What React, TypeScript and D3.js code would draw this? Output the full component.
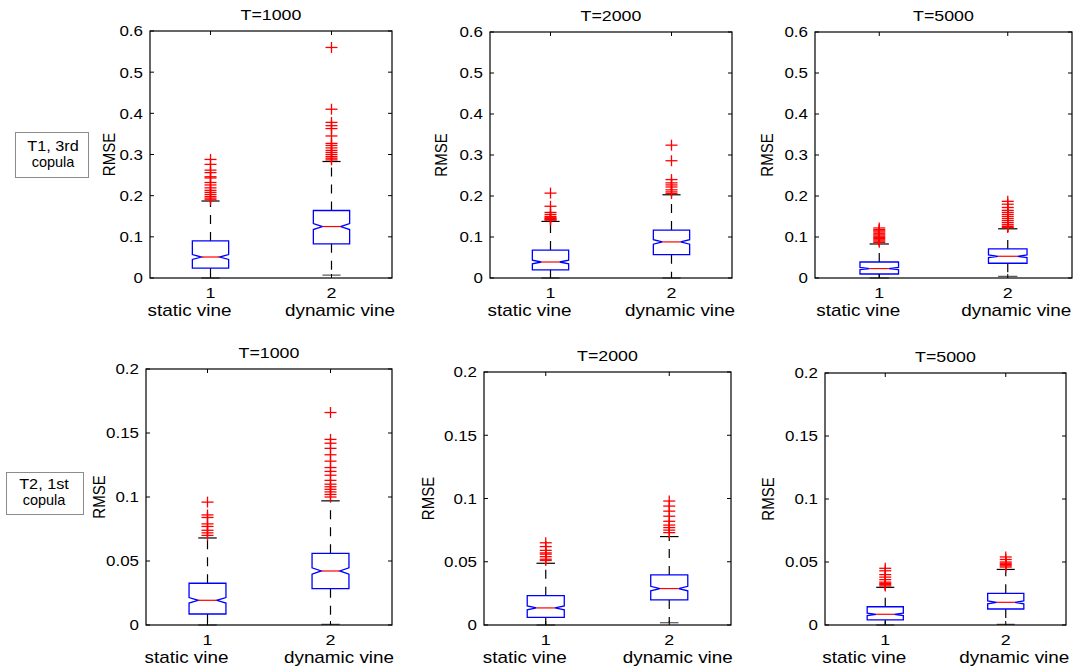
import React from "react";
import * as d3 from "d3";

// ---- data -------------------------------------------------------------
const categories = ["static vine", "dynamic vine"];
const categoryTicks = ["1", "2"];
const sampleTitles = ["T=1000", "T=2000", "T=5000"];
const rowLabels = [["T1, 3rd", "copula"], ["T2, 1st", "copula"]];
const topTicks = [0, 0.1, 0.2, 0.3, 0.4, 0.5, 0.6];
const topTickLabels = ["0", "0.1", "0.2", "0.3", "0.4", "0.5", "0.6"];
const bottomTicks = [0, 0.05, 0.1, 0.15, 0.2];
const bottomTickLabels = ["0", "0.05", "0.1", "0.15", "0.2"];
const sampleSize = 300; // replications per box, used for notch size

type BoxStat = { lo: number; q1: number; med: number; q3: number; hi: number; out: number[] };

// Tree 1, 3rd copula
const t1T1000: BoxStat[] = [
  { lo: 0, q1: 0.024, med: 0.051, q3: 0.09, hi: 0.187,
    out: [0.19, 0.194, 0.198, 0.203, 0.208, 0.213, 0.219, 0.226, 0.232, 0.243, 0.246, 0.256, 0.262, 0.276, 0.288] },
  { lo: 0.007, q1: 0.083, med: 0.125, q3: 0.164, hi: 0.283,
    out: [0.287, 0.291, 0.295, 0.3, 0.305, 0.31, 0.316, 0.322, 0.327, 0.345, 0.363, 0.37, 0.378, 0.41, 0.56] },
];
const t1T2000: BoxStat[] = [
  { lo: 0, q1: 0.02, med: 0.039, q3: 0.068, hi: 0.138,
    out: [0.141, 0.143, 0.145, 0.147, 0.15, 0.155, 0.16, 0.175, 0.207] },
  { lo: 0, q1: 0.057, med: 0.088, q3: 0.117, hi: 0.203,
    out: [0.206, 0.21, 0.215, 0.222, 0.227, 0.232, 0.24, 0.286, 0.324] },
];
const t1T5000: BoxStat[] = [
  { lo: 0, q1: 0.0097, med: 0.023, q3: 0.039, hi: 0.083,
    out: [0.087, 0.09, 0.093, 0.096, 0.099, 0.102, 0.105, 0.108, 0.112, 0.115, 0.118, 0.122] },
  { lo: 0.004, q1: 0.036, med: 0.053, q3: 0.071, hi: 0.12,
    out: [0.123, 0.126, 0.13, 0.135, 0.14, 0.145, 0.15, 0.155, 0.16, 0.165, 0.172, 0.18, 0.187] },
];
// Tree 2, 1st copula
const t2T1000: BoxStat[] = [
  { lo: 0, q1: 0.0086, med: 0.0193, q3: 0.0326, hi: 0.068,
    out: [0.07, 0.072, 0.074, 0.077, 0.079, 0.084, 0.086, 0.096] },
  { lo: 0.0005, q1: 0.0284, med: 0.0422, q3: 0.056, hi: 0.097,
    out: [0.1, 0.102, 0.104, 0.106, 0.108, 0.11, 0.113, 0.117, 0.12, 0.123, 0.128, 0.133, 0.138, 0.142, 0.145, 0.166] },
];
const t2T2000: BoxStat[] = [
  { lo: 0, q1: 0.0061, med: 0.0135, q3: 0.0232, hi: 0.0488,
    out: [0.051, 0.052, 0.054, 0.056, 0.057, 0.059, 0.062, 0.065] },
  { lo: 0.0018, q1: 0.0198, med: 0.0288, q3: 0.0396, hi: 0.0699,
    out: [0.073, 0.075, 0.077, 0.079, 0.082, 0.086, 0.09, 0.094, 0.098] },
];
const t2T5000: BoxStat[] = [
  { lo: 0, q1: 0.004, med: 0.0085, q3: 0.0145, hi: 0.0299,
    out: [0.031, 0.032, 0.033, 0.034, 0.036, 0.038, 0.04, 0.043, 0.045] },
  { lo: 0.0005, q1: 0.0127, med: 0.018, q3: 0.0251, hi: 0.0441,
    out: [0.046, 0.047, 0.048, 0.049, 0.05, 0.052, 0.054] },
];

// ---- layout -----------------------------------------------------------
const FONT = "'Liberation Sans', Arial, Helvetica, sans-serif";
const BLUE = "#0000ff";
const RED = "#ff0000";
// horizontal offsets of the two-line tick label's second line
const categoryShift = [-21, 8.5];

type Panel = {
  title: string; boxes: BoxStat[]; ticks: number[]; tickLabels: string[]; yMax: number;
  left: number; top: number; right: number; bottom: number; ylabelX: number;
};

const panels: Panel[] = [
  { title: sampleTitles[0], boxes: t1T1000, ticks: topTicks, tickLabels: topTickLabels, yMax: 0.6, left: 150, top: 31, right: 392, bottom: 278, ylabelX: 109 },
  { title: sampleTitles[1], boxes: t1T2000, ticks: topTicks, tickLabels: topTickLabels, yMax: 0.6, left: 490, top: 32, right: 732, bottom: 278, ylabelX: 441 },
  { title: sampleTitles[2], boxes: t1T5000, ticks: topTicks, tickLabels: topTickLabels, yMax: 0.6, left: 815, top: 32, right: 1072, bottom: 278, ylabelX: 767 },
  { title: sampleTitles[0], boxes: t2T1000, ticks: bottomTicks, tickLabels: bottomTickLabels, yMax: 0.2, left: 146, top: 369, right: 392, bottom: 625, ylabelX: 99 },
  { title: sampleTitles[1], boxes: t2T2000, ticks: bottomTicks, tickLabels: bottomTickLabels, yMax: 0.2, left: 484, top: 372, right: 731, bottom: 625, ylabelX: 428 },
  { title: sampleTitles[2], boxes: t2T5000, ticks: bottomTicks, tickLabels: bottomTickLabels, yMax: 0.2, left: 825, top: 373, right: 1066, bottom: 625, ylabelX: 768 },
];

// text with horizontal stretch (the figure is rendered wider than tall)
function SText(props: {
  x: number; y: number; sx?: number; size: number; anchor?: string; rotate?: number; children: React.ReactNode; dy?: string;
}) {
  const { x, y, sx = 1, size, anchor = "middle", rotate = 0, children, dy } = props;
  const tr = `translate(${x},${y}) scale(${sx},1)` + (rotate ? ` rotate(${rotate})` : "");
  return (
    <text transform={tr} fontSize={size} fontFamily={FONT} textAnchor={anchor} fill="#000" dy={dy}>
      {children}
    </text>
  );
}

function BoxPanel({ p }: { p: Panel }) {
  const x = d3.scaleLinear().domain([0.5, 2.5]).range([p.left, p.right]);
  const y = d3.scaleLinear().domain([0, p.yMax]).range([p.bottom, p.top]);
  const unit = x(2) - x(1);
  const bw = unit * 0.3;
  const tickLen = 4;
  const midY = (p.top + p.bottom) / 2;

  return (
    <g>
      {/* boxes */}
      {p.boxes.map((b, i) => {
        const cx = x(i + 1);
        const half = bw / 2;
        const notch = (1.57 * (b.q3 - b.q1)) / Math.sqrt(sampleSize);
        const nLo = y(b.med - notch);
        const nHi = y(b.med + notch);
        const yMed = y(b.med);
        const path = d3.path();
        path.moveTo(cx - half, y(b.q1));
        path.lineTo(cx - half, nLo);
        path.lineTo(cx - half / 2, yMed);
        path.lineTo(cx - half, nHi);
        path.lineTo(cx - half, y(b.q3));
        path.lineTo(cx + half, y(b.q3));
        path.lineTo(cx + half, nHi);
        path.lineTo(cx + half / 2, yMed);
        path.lineTo(cx + half, nLo);
        path.lineTo(cx + half, y(b.q1));
        path.closePath();
        const capHalf = bw / 4;
        return (
          <g key={i}>
            <line x1={cx} x2={cx} y1={y(b.q3)} y2={y(b.hi)} stroke="#000" strokeWidth={1.2} strokeDasharray="9,8" />
            <line x1={cx} x2={cx} y1={y(b.q1)} y2={y(b.lo)} stroke="#000" strokeWidth={1.2} strokeDasharray="9,8" />
            <line x1={cx - capHalf} x2={cx + capHalf} y1={y(b.hi)} y2={y(b.hi)} stroke="#000" strokeWidth={1.2} />
            <line x1={cx - capHalf} x2={cx + capHalf} y1={y(b.lo)} y2={y(b.lo)} stroke="#555" strokeWidth={1.2} />
            <path d={path.toString()} fill="none" stroke={BLUE} strokeWidth={1.3} />
            <line x1={cx - half / 2} x2={cx + half / 2} y1={yMed} y2={yMed} stroke={RED} strokeWidth={1.2} />
            {b.out.map((v, k) => (
              <g key={k} stroke={RED} strokeWidth={1.3}>
                <line x1={cx - 6} x2={cx + 6} y1={y(v)} y2={y(v)} />
                <line x1={cx} x2={cx} y1={y(v) - 5.5} y2={y(v) + 5.5} />
              </g>
            ))}
          </g>
        );
      })}

      {/* axes frame */}
      <rect x={p.left} y={p.top} width={p.right - p.left} height={p.bottom - p.top} fill="none" stroke="#000" strokeWidth={1.2} />

      {/* y ticks on both sides */}
      {p.ticks.map((t, i) => (
        <g key={i}>
          <line x1={p.left} x2={p.left + tickLen} y1={y(t)} y2={y(t)} stroke="#000" />
          <line x1={p.right} x2={p.right - tickLen} y1={y(t)} y2={y(t)} stroke="#000" />
          <SText x={p.left - 7} y={y(t)} dy="0.36em" size={15} sx={1.13} anchor="end">{p.tickLabels[i]}</SText>
        </g>
      ))}

      {/* x ticks */}
      {categories.map((c, i) => (
        <g key={c}>
          <line x1={x(i + 1)} x2={x(i + 1)} y1={p.bottom} y2={p.bottom - tickLen} stroke="#000" />
          <line x1={x(i + 1)} x2={x(i + 1)} y1={p.top} y2={p.top + tickLen} stroke="#000" />
          <SText x={x(i + 1)} y={p.bottom + 20} size={15.5} sx={1.15}>{categoryTicks[i]}</SText>
          <SText x={x(i + 1) + categoryShift[i]} y={p.bottom + 38} size={16} sx={1.18}>{c}</SText>
        </g>
      ))}

      {/* title and y label */}
      <SText x={(p.left + p.right) / 2} y={p.top - 11} size={14} sx={1.27}>{p.title}</SText>
      <SText x={p.ylabelX} y={midY} size={15} sx={1.12} rotate={-90} dy="0.36em">RMSE</SText>
    </g>
  );
}

export default function App() {
  const rowBoxes = [
    { x: 15, y: 132, w: 73, h: 45, cx: 53, l1: 151, l2: 167 },
    { x: 6, y: 472, w: 77, h: 42, cx: 44, l1: 489, l2: 505 },
  ];
  return (
    <svg width={1076} height={671} style={{ position: "absolute", left: 0, top: 0, background: "#fff" }}>
      <rect x={0} y={0} width={1076} height={671} fill="#fff" />
      {rowBoxes.map((r, i) => (
        <g key={i}>
          <rect x={r.x + 0.5} y={r.y + 0.5} width={r.w} height={r.h} fill="#fff" stroke="#8c8c8c" strokeWidth={1} />
          <SText x={r.cx} y={r.l1} size={14.5} sx={1.12}>{rowLabels[i][0]}</SText>
          <SText x={r.cx} y={r.l2} size={14.5} sx={1.0}>{rowLabels[i][1]}</SText>
        </g>
      ))}
      {panels.map((p, i) => (
        <BoxPanel key={i} p={p} />
      ))}
    </svg>
  );
}
